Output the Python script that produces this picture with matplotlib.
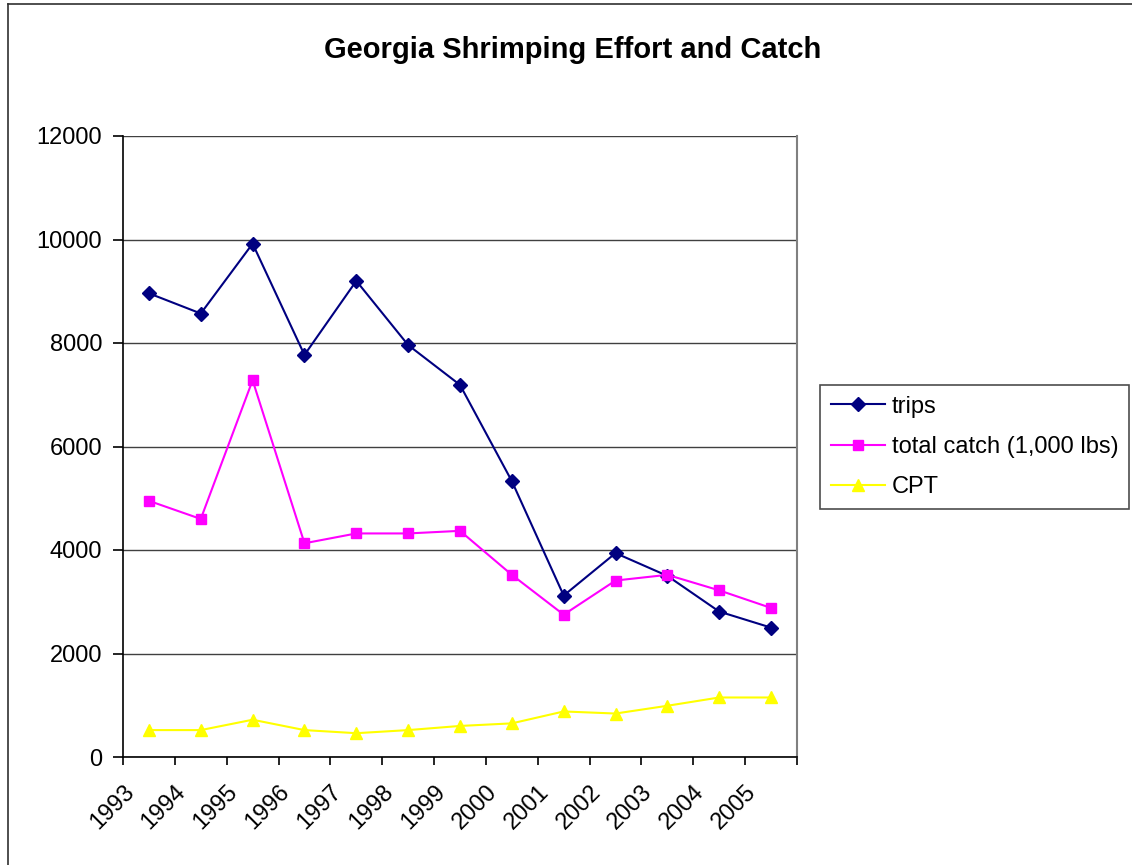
import matplotlib
matplotlib.use("Agg")
import matplotlib.pyplot as plt
from matplotlib.lines import Line2D

years = ["1993", "1994", "1995", "1996", "1997", "1998", "1999",
         "2000", "2001", "2002", "2003", "2004", "2005"]
trips = [8960, 8570, 9920, 7770, 9200, 7960, 7190, 5330, 3120, 3940, 3500, 2810, 2500]
total_catch = [4950, 4600, 7280, 4130, 4320, 4320, 4370, 3520, 2750, 3410, 3520, 3220, 2880]
cpt = [520, 520, 720, 520, 460, 520, 600, 650, 880, 840, 990, 1150, 1150]
yticks = [0, 2000, 4000, 6000, 8000, 10000, 12000]

plt.rcParams['font.family'] = ['Liberation Sans', 'DejaVu Sans']

W, H = 1132, 865
fig = plt.figure(figsize=(W / 100, H / 100), dpi=100)
fig.patch.set_facecolor('white')
# chart-area border (only left and top visible in reference)
fig.lines.append(Line2D([7.5 / W, 7.5 / W], [0, 1 - 3.5 / H], transform=fig.transFigure,
                        color='#303030', linewidth=1.2))
fig.lines.append(Line2D([7.5 / W, 1], [1 - 3.5 / H, 1 - 3.5 / H], transform=fig.transFigure,
                        color='#303030', linewidth=1.2))

left, right, top, bottom = 123, 797, 136, 757
ax = fig.add_axes([left / W, 1 - bottom / H, (right - left) / W, (bottom - top) / H])

x = [i + 0.5 for i in range(len(years))]
ax.plot(x, trips, color='#000080', marker='D', markersize=7.5, linewidth=1.5, label='trips')
ax.plot(x, total_catch, color='#FF00FF', marker='s', markersize=7.5, linewidth=1.5,
        label='total catch (1,000 lbs)')
ax.plot(x, cpt, color='#FFFF00', marker='^', markersize=9, linewidth=1.5, label='CPT')

FS = 17
ax.set_xlim(0, len(years))
ax.set_ylim(0, 12000)
ax.set_yticks(yticks)
ax.set_yticklabels([str(v) for v in yticks], fontsize=FS)
ax.set_xticks(range(len(years) + 1))
ax.set_xticklabels(years + [''], fontsize=FS, rotation=45, ha='right',
                   va='top', rotation_mode='anchor')
ax.tick_params(axis='x', direction='out', length=6, width=1.2, pad=11)
ax.tick_params(axis='y', direction='out', length=7, width=1.2, pad=8)
ax.grid(axis='y', color='#404040', linewidth=1.0)
ax.set_axisbelow(True)
ax.spines['top'].set_visible(False)
ax.spines['right'].set_color('#808080')
ax.spines['right'].set_linewidth(1.5)
ax.spines['left'].set_linewidth(1.2)
ax.spines['bottom'].set_linewidth(1.2)

fig.text(573 / W, 1 - 50 / H, 'Georgia Shrimping Effort and Catch', fontsize=21,
         fontweight='bold', ha='center', va='center')

leg = ax.legend(loc='upper left', bbox_to_anchor=(820 / W, 1 - 385 / H),
                bbox_transform=fig.transFigure, fontsize=FS, frameon=True,
                fancybox=False, edgecolor='#202020', borderpad=0.45,
                handlelength=2.3, handletextpad=0.3, labelspacing=0.78,
                borderaxespad=0)
leg.get_frame().set_linewidth(1.2)

fig.savefig('out.png', dpi=100, facecolor='white')
